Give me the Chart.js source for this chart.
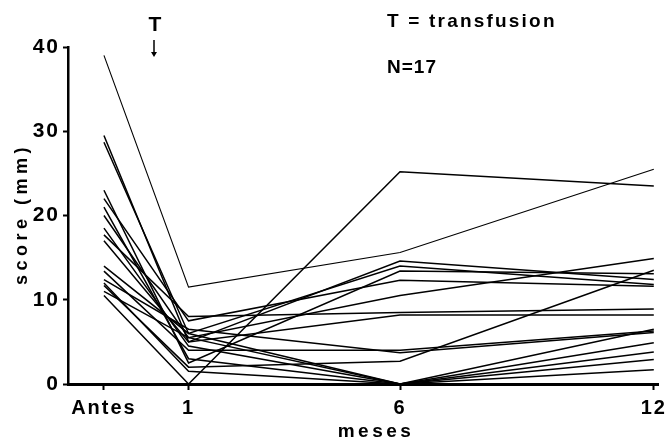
<!DOCTYPE html>
<html><head><meta charset="utf-8">
<script src="https://cdn.jsdelivr.net/npm/chart.js@4"></script>
<style>html,body{margin:0;padding:0;background:#fff}#w{width:671px;height:443px}</style>
</head><body><div id="w"><canvas id="c" width="671" height="443"></canvas></div>
<script>
const xLabels = ['Antes', '1', '6', '12'];
const xValues = [-1, 1, 6, 12];
const yTicks = [0, 10, 20, 30, 40];

const p1 = [39, 11.5, 15.6, 25.5];
const p2 = [10.5, 0, 25.2, 23.5];
const p3 = [29.5, 5, 14.6, 12.4];
const p4 = [28.7, 6, 14.0, 11.8];
const p5 = [23, 2.5, 13.4, 13.1];
const p6 = [22, 7.5, 12.3, 11.6];
const p7 = [20, 5.5, 10.5, 14.9];
const p8 = [17.7, 8, 8.5, 8.9];
const p9 = [17, 5, 8.2, 8.2];
const p10 = [13.4, 4, 4.0, 6.3];
const p11 = [12.4, 6.5, 3.7, 6.1];
const p12 = [11.7, 2, 2.7, 13.5];
const p13 = [18.5, 4.5, 0, 4.9];
const p14 = [21, 3, 0, 3.8];
const p15 = [12, 1.5, 0, 2.9];
const p16 = [14, 6, 0, 1.7];
const p17 = [11, 5.5, 0, 6.5];

const patients = [p1,p2,p3,p4,p5,p6,p7,p8,p9,p10,p11,p12,p13,p14,p15,p16,p17];

const annot = {
  id: 'annot',
  beforeDraw(chart) { chart.ctx.letterSpacing = '2px'; },
  afterDraw(chart) {
    const ctx = chart.ctx;
    ctx.save();
    ctx.fillStyle = '#000';
    ctx.strokeStyle = '#000';
    ctx.textBaseline = 'middle';
    // T marker
    ctx.letterSpacing = '0px';
    ctx.font = 'bold 21px "Liberation Sans", Arial, sans-serif';
    ctx.textAlign = 'center';
    ctx.fillText('T', 155, 25);
    ctx.lineWidth = 1.5;
    ctx.beginPath(); ctx.moveTo(154, 40); ctx.lineTo(154, 55); ctx.stroke();
    ctx.beginPath(); ctx.moveTo(151, 52); ctx.lineTo(154, 57); ctx.lineTo(157, 52); ctx.closePath(); ctx.fill();
    // legend texts
    ctx.textAlign = 'left';
    ctx.font = 'bold 19px "Liberation Sans", Arial, sans-serif';
    ctx.letterSpacing = '2.2px';
    ctx.fillText('T = transfusion', 387, 22);
    ctx.letterSpacing = '1px';
    ctx.fillText('N=17', 387, 68);
    // x title
    ctx.textAlign = 'center';
    ctx.font = 'bold 19px "Liberation Sans", Arial, sans-serif';
    ctx.letterSpacing = '3.5px';
    ctx.fillText('meses', 376, 432);
    // y title
    ctx.translate(22, 214);
    ctx.rotate(-Math.PI / 2);
    ctx.letterSpacing = '4.5px';
    ctx.font = 'bold 18px "Liberation Sans", Arial, sans-serif';
    ctx.fillText('score (mm)', 0, 0);
    ctx.restore();
  }
};

new Chart(document.getElementById('c'), {
  type: 'line',
  data: {
    datasets: patients.map((vals, i) => ({
      label: 'P' + (i + 1),
      data: xValues.map((x, j) => ({ x: x, y: vals[j] })),
      borderColor: '#000',
      borderWidth: i === 0 ? 1.1 : 1.5,
      pointRadius: 0,
      tension: 0,
      fill: false
    }))
  },
  options: {
    responsive: false,
    animation: false,
    layout: { padding: { top: 47, right: 11, left: 0, bottom: 0 } },
    plugins: { legend: { display: false }, tooltip: { enabled: false } },
    scales: {
      x: {
        type: 'linear', min: -1.85, max: 12.1,
        afterBuildTicks: s => { s.ticks = xValues.map(v => ({ value: v })); },
        afterFit: s => { s.height = 59; },
        ticks: {
          autoSkip: false, maxRotation: 0, color: '#000', padding: 6,
          font: { family: '"Liberation Sans", Arial, sans-serif', size: 20, weight: 'bold' },
          callback: v => xLabels[xValues.indexOf(v)]
        },
        grid: { drawOnChartArea: false, drawTicks: true, tickLength: 6, color: '#000', tickWidth: 2 },
        border: { display: true, color: '#000', width: 3 }
      },
      y: {
        min: 0, max: 40,
        afterBuildTicks: s => { s.ticks = yTicks.map(v => ({ value: v })); },
        afterFit: s => { s.width = 68; },
        ticks: {
          color: '#000', padding: 3,
          font: { family: '"Liberation Sans", Arial, sans-serif', size: 21, weight: 'bold' }
        },
        grid: { drawOnChartArea: false, drawTicks: true, tickLength: 5, color: '#000', tickWidth: 2 },
        border: { display: true, color: '#000', width: 2.5 }
      }
    }
  },
  plugins: [annot]
});
</script>
</body></html>
